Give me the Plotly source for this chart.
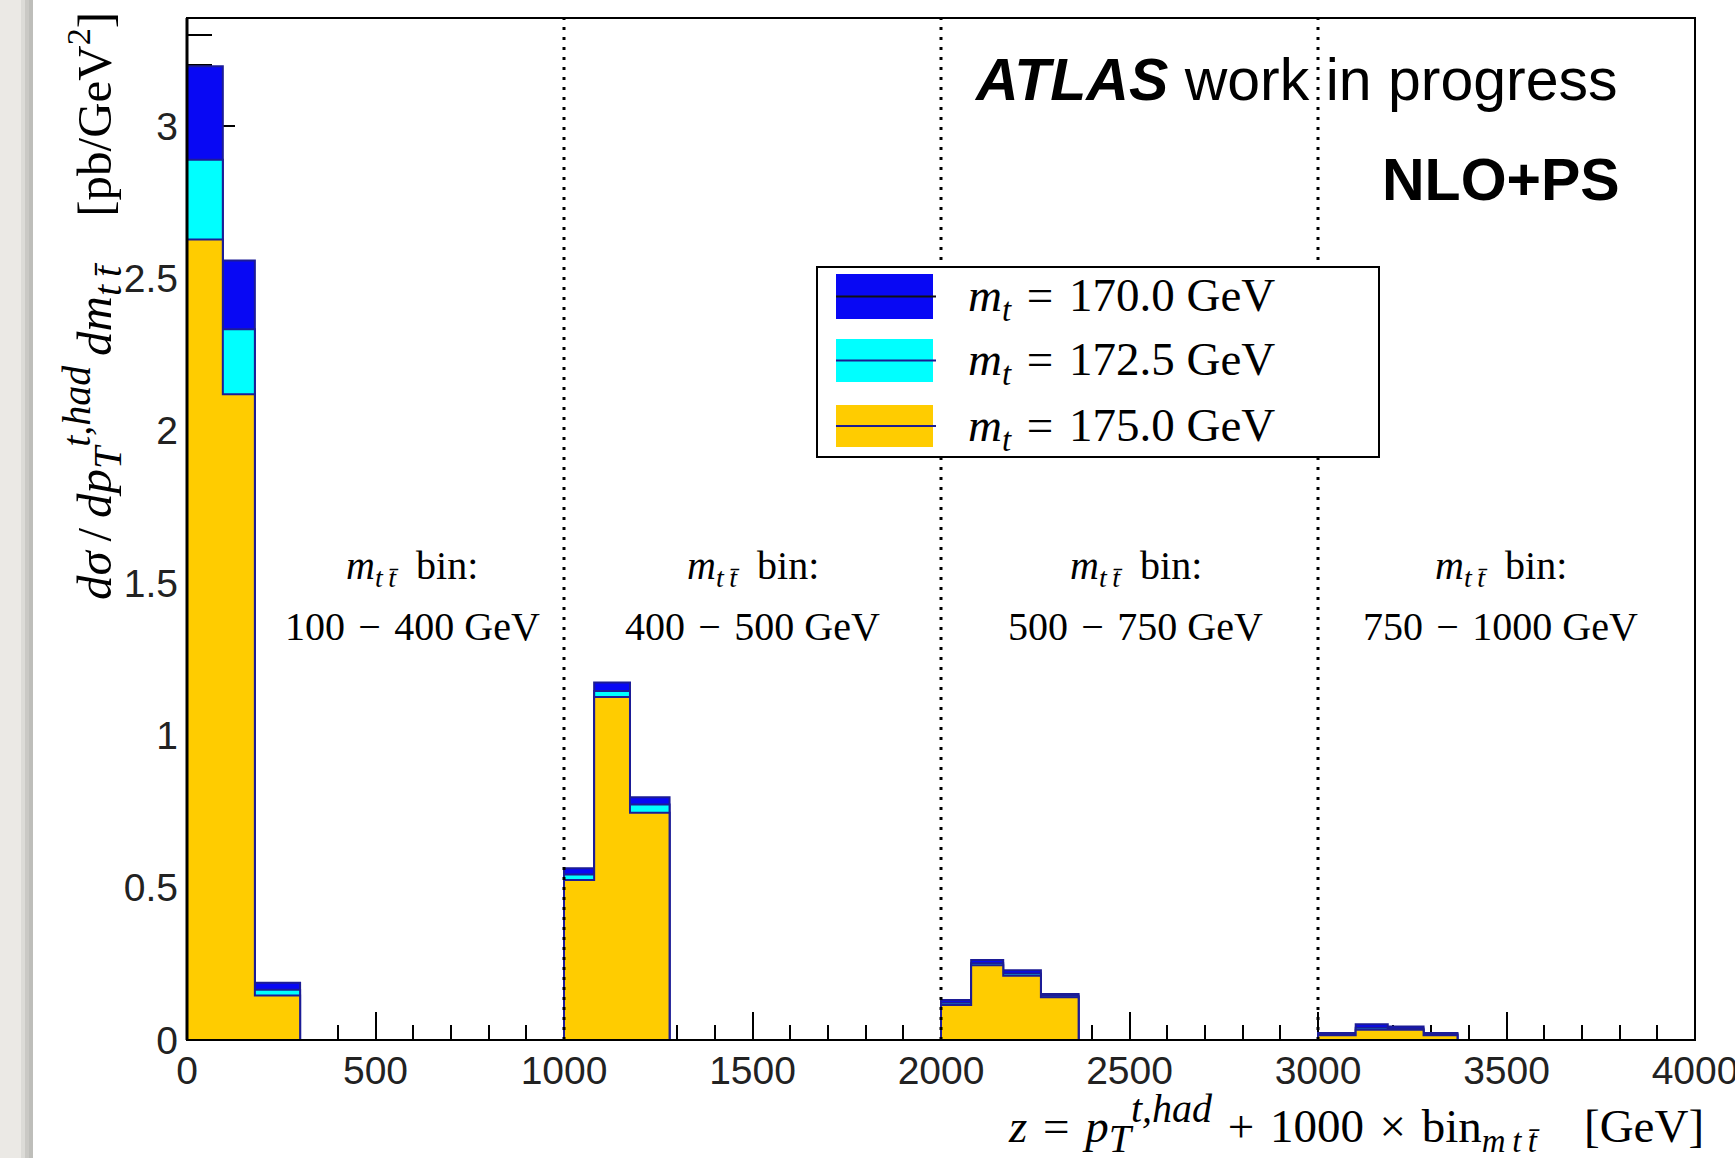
import plotly.graph_objects as go

# ---------------- data ----------------
# histogram bin edges in z = pT + 1000*bin(mtt)  [GeV]
bin_edges = [0, 95, 180, 300, 1000, 1080, 1175, 1280, 2000, 2080, 2165, 2265, 2365,
             3000, 3100, 3185, 3280, 3370, 4000]
# dsigma/dpT dmtt [pb/GeV^2] per bin
xs_mt1700 = [3.197, 2.559, 0.188, 0.0, 0.564, 1.174, 0.797, 0.0, 0.131, 0.263, 0.229, 0.151, 0.0,
             0.023, 0.052, 0.044, 0.023, 0.0]
xs_mt1725 = [2.890, 2.333, 0.165, 0.0, 0.543, 1.146, 0.773, 0.0, 0.122, 0.252, 0.218, 0.145, 0.0,
             0.019, 0.040, 0.038, 0.019, 0.0]
xs_mt1750 = [2.628, 2.120, 0.146, 0.0, 0.525, 1.126, 0.746, 0.0, 0.115, 0.245, 0.211, 0.140, 0.0,
             0.016, 0.034, 0.034, 0.016, 0.0]
mass_labels = ["170.0", "172.5", "175.0"]
mtt_ranges = ["100\u2004\u2212\u2004400 GeV", "400\u2004\u2212\u2004500 GeV",
              "500\u2004\u2212\u2004750 GeV", "750\u2004\u2212\u20041000 GeV"]
mtt_boundaries = [1000, 2000, 3000]
group_label_x = [597, 1501, 2517, 3485]
x_tickvals = [0, 500, 1000, 1500, 2000, 2500, 3000, 3500, 4000]
y_tickvals = [0, 0.5, 1, 1.5, 2, 2.5, 3]

fill_colors = ["#0808f4", "#00ffff", "#ffcc00"]
legend_line_colors = ["#111111", "#1c1c90", "#1c1c90"]
outline = "#1c1c96"

# ---------------- geometry ----------------
W_FIG, H_FIG = 1735, 1158
L, R, T, B = 187, 1695, 18, 1040
PW, PH = R - L, B - T


def px_x(x):
    return (x - L) / PW


def px_y(y):
    return (B - y) / PH


fig = go.Figure()

for vals, col in zip([xs_mt1700, xs_mt1725, xs_mt1750], fill_colors):
    fig.add_trace(go.Scatter(
        x=bin_edges, y=vals + [vals[-1]],
        mode="lines", line=dict(shape="hv", color=outline, width=2),
        fill="tozeroy", fillcolor=col, showlegend=False, hoverinfo="skip"))

shapes = []
# left slide background strip
shapes.append(dict(type="rect", xref="paper", yref="paper", x0=px_x(0), x1=px_x(33),
                   y0=px_y(H_FIG), y1=px_y(0), fillcolor="#ebe9e5", line=dict(width=0), layer="below"))
for a, b, c in [(21, 25, "#dcdbd7"), (25, 29, "#cac9c5"), (29, 33, "#bebeba")]:
    shapes.append(dict(type="rect", xref="paper", yref="paper", x0=px_x(a), x1=px_x(b),
                       y0=px_y(H_FIG), y1=px_y(0), fillcolor=c, line=dict(width=0), layer="below"))

# dotted separators
for xb in mtt_boundaries:
    shapes.append(dict(type="line", xref="x", yref="paper", x0=xb, x1=xb, y0=0, y1=1,
                       line=dict(color="black", width=3, dash="3px,7px"), layer="above"))

# frame
shapes.append(dict(type="rect", xref="paper", yref="paper", x0=0, x1=1, y0=0, y1=1,
                   line=dict(color="black", width=2), layer="above"))
shapes.append(dict(type="line", xref="paper", yref="paper", x0=0, x1=0, y0=0, y1=1,
                   line=dict(color="black", width=3), layer="above"))

# legend box
shapes.append(dict(type="rect", xref="paper", yref="paper", x0=px_x(817), x1=px_x(1379),
                   y0=px_y(457), y1=px_y(267), fillcolor="white",
                   line=dict(color="black", width=2), layer="above"))
sw_rows = [(274, 319), (339, 382), (405, 447)]
for (y0, y1), col, lc in zip(sw_rows, fill_colors, legend_line_colors):
    shapes.append(dict(type="rect", xref="paper", yref="paper", x0=px_x(836), x1=px_x(933),
                       y0=px_y(y1), y1=px_y(y0), fillcolor=col, line=dict(width=0), layer="above"))
    ym = (y0 + y1) / 2
    shapes.append(dict(type="line", xref="paper", yref="paper", x0=px_x(836), x1=px_x(936),
                       y0=px_y(ym), y1=px_y(ym), line=dict(color=lc, width=2), layer="above"))

ann = []
serif = "Liberation Serif"
sans = "Liberation Sans"
EN = "\u2002"
MS = "\u2004"
TH = "\u2009"
for (y0, y1), m in zip(sw_rows, mass_labels):
    ann.append(dict(xref="paper", yref="paper", x=px_x(966), y=px_y((y0 + y1) / 2 + 2),
                    xanchor="left", yanchor="middle", showarrow=False,
                    text="<i>m</i><sub><i>t</i></sub>" + MS + "=" + MS + m + " GeV",
                    font=dict(family=serif, size=47, color="black")))

for xc, rng in zip(group_label_x, mtt_ranges):
    ann.append(dict(xref="x", yref="paper", x=xc, y=px_y(568), xanchor="center", yanchor="middle",
                    showarrow=False,
                    text="<i>m</i><sub><i>t" + TH + "t\u0304</i></sub>" + EN + "bin:",
                    font=dict(family=serif, size=40, color="black")))
    ann.append(dict(xref="x", yref="paper", x=xc, y=px_y(626), xanchor="center", yanchor="middle",
                    showarrow=False, text=rng, font=dict(family=serif, size=40, color="black")))

ann.append(dict(xref="paper", yref="paper", x=px_x(972), y=px_y(80), xanchor="left", yanchor="middle",
                showarrow=False, text="<b><i>ATLAS</i></b> work in progress",
                font=dict(family=sans, size=59, color="black")))
ann.append(dict(xref="paper", yref="paper", x=px_x(1622), y=px_y(180), xanchor="right", yanchor="middle",
                showarrow=False, text="<b>NLO+PS</b>",
                font=dict(family=sans, size=59, color="black")))

# axis titles
big = '<span style="font-size:40px">'
ytitle = ("<i>d\u03c3</i>" + TH + "/" + TH + "<i>dp</i><sub>" + big + "<i>T</i></span></sub><sup>"
          + big + "<i>t,had</i></span></sup>" + TH + "<i>dm</i><sub>" + big + "<i>t" + TH + "t\u0304</i></span></sub>"
          + EN + EN + "[pb/GeV<sup>2</sup>]")
ann.append(dict(xref="paper", yref="paper", x=px_x(92), y=px_y(10), xanchor="center", yanchor="top",
                textangle=-90, showarrow=False, text=ytitle,
                font=dict(family=serif, size=49, color="black")))
xtitle = ("<i>z</i>" + MS + "=" + MS + "<i>p</i><sub>" + big + "<i>T</i></span></sub><sup>" + big
          + "<i>t,had</i></span></sup>" + MS + "+" + MS + "1000" + MS + "\u00d7" + MS + "bin<sub><i>m"
          + TH + "t" + TH + "t\u0304</i></sub>" + EN + EN + "[GeV]")
ann.append(dict(xref="paper", yref="paper", x=px_x(1706), y=px_y(1124), xanchor="right", yanchor="middle",
                showarrow=False, text=xtitle,
                font=dict(family=serif, size=47, color="black")))

fig.update_layout(
    width=W_FIG, height=H_FIG,
    margin=dict(l=L, r=W_FIG - R, t=T, b=H_FIG - B, pad=0, autoexpand=False),
    paper_bgcolor="white", plot_bgcolor="white",
    shapes=shapes, annotations=ann, showlegend=False,
    xaxis=dict(range=[0, 4000], tickvals=x_tickvals, ticks="inside", ticklen=28, tickwidth=2,
               tickcolor="black", showline=False, showgrid=False, zeroline=False, automargin=False,
               layer="below traces", ticklabelstandoff=4, ticklabeloverflow="allow",
               tickfont=dict(family=sans, size=39, color="#222222"),
               minor=dict(dtick=100, tick0=0, ticks="inside", ticklen=15, tickwidth=2,
                          tickcolor="black", showgrid=False)),
    yaxis=dict(range=[0, 3.355], tickvals=y_tickvals, ticks="inside", ticklen=48, tickwidth=2,
               tickcolor="black", showline=False, showgrid=False, zeroline=False, automargin=False,
               layer="below traces", ticklabelstandoff=8,
               tickfont=dict(family=sans, size=39, color="#222222"),
               minor=dict(dtick=0.1, tick0=0, ticks="inside", ticklen=25, tickwidth=2,
                          tickcolor="black", showgrid=False)),
)

fig.write_html("out.html")
